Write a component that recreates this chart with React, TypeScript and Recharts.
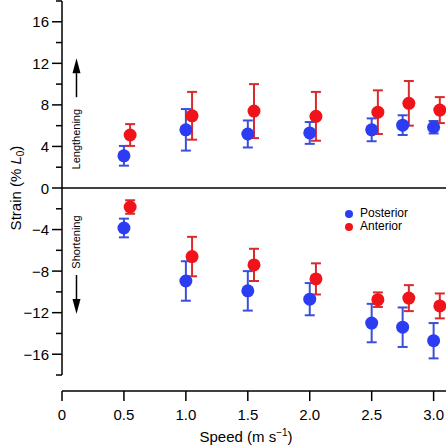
import React from 'react';
import {
  ScatterChart,
  Scatter,
  XAxis,
  YAxis,
  ErrorBar,
  ReferenceLine,
  ReferenceDot,
  Legend,
  Label,
} from 'recharts';

// ---- data ----
const speedsPosterior = [0.5, 1.0, 1.5, 2.0, 2.5, 2.75, 3.0];
const speedsAnterior = [0.55, 1.05, 1.55, 2.05, 2.55, 2.8, 3.05];

const posteriorLengthening = [3.1, 5.6, 5.2, 5.3, 5.6, 6.05, 5.85];
const posteriorLengtheningErr = [0.95, 2.0, 1.3, 1.05, 1.1, 0.95, 0.6];
const anteriorLengthening = [5.1, 6.95, 7.4, 6.9, 7.3, 8.15, 7.5];
const anteriorLengtheningErr = [1.05, 2.3, 2.6, 2.35, 2.1, 2.15, 1.25];

const posteriorShortening = [-3.85, -8.95, -9.9, -10.7, -13.0, -13.4, -14.7];
const posteriorShorteningErr = [0.9, 1.9, 1.9, 1.55, 1.85, 1.9, 1.7];
const anteriorShortening = [-1.83, -6.6, -7.4, -8.75, -10.75, -10.6, -11.35];
const anteriorShorteningErr = [0.65, 1.9, 1.55, 1.5, 0.7, 1.25, 1.2];

const xTicks = [0, 0.5, 1.0, 1.5, 2.0, 2.5, 3.0];
const yTicks = [-18, -16, -14, -12, -10, -8, -6, -4, -2, 0, 2, 4, 6, 8, 10, 12, 14, 16, 18];
const yLabelTicks = [-16, -12, -8, -4, 0, 4, 8, 12, 16];
const seriesNames = ['Posterior', 'Anterior'];

const BLUE = '#2b3cf2';
const BLUE_BAR = '#3a4fdc';
const RED = '#f0141a';
const RED_BAR = '#d92a2e';
const FONT = '"Liberation Sans", Arial, Helvetica, sans-serif';

const build = (speeds: number[], vals: number[], errs: number[]) =>
  speeds.map((s, i) => ({ x: s, y: vals[i], err: errs[i] }));

const posteriorData = [
  ...build(speedsPosterior, posteriorLengthening, posteriorLengtheningErr),
  ...build(speedsPosterior, posteriorShortening, posteriorShorteningErr),
];
const anteriorData = [
  ...build(speedsAnterior, anteriorLengthening, anteriorLengtheningErr),
  ...build(speedsAnterior, anteriorShortening, anteriorShorteningErr),
];

const fmt = (v: number) => (v < 0 ? '\u2212' + Math.abs(v) : String(v));

const YTick = (props: any) => {
  const { x, y, payload } = props;
  const v = payload.value;
  const major = yLabelTicks.includes(v);
  return (
    <g>
      <line x1={x - (major ? 10 : 6)} x2={x} y1={y} y2={y} stroke="#000" strokeWidth={1.5} />
      {major && (
        <text x={x - 13} y={y} textAnchor="end" dominantBaseline="central" fontSize={15} fill="#000" fontFamily={FONT}>
          {fmt(v)}
        </text>
      )}
    </g>
  );
};

const dotShape = (color: string) => (props: any) => (
  <circle cx={props.cx} cy={props.cy} r={6.5} fill={color} />
);

const YTitle = (props: any) => {
  const vb = props.viewBox || { x: 0, y: 1, width: 62, height: 390 };
  const cx = 21;
  const cy = vb.y + (vb.height - 16) / 2;
  return (
    <text
      x={cx}
      y={cy}
      transform={`rotate(-90 ${cx} ${cy})`}
      textAnchor="middle"
      fontSize={15}
      fill="#000"
      fontFamily={FONT}
    >
      Strain (%{' '}
      <tspan fontStyle="italic">L</tspan>
      <tspan fontSize={10} dy={3}>0</tspan>
      <tspan dy={-3}>)</tspan>
    </text>
  );
};

const XTitle = (props: any) => {
  const vb = props.viewBox || { x: 62, y: 391, width: 384, height: 55 };
  const cx = vb.x + vb.width / 2 - 8;
  return (
    <text x={cx} y={442} textAnchor="middle" fontSize={15} fill="#000" fontFamily={FONT}>
      Speed (m s
      <tspan fontSize={10} dy={-6}>{'\u22121'}</tspan>
      <tspan dy={6}>)</tspan>
    </text>
  );
};

const LengtheningNote = (props: any) => {
  const { cx, cy } = props;
  return (
    <g>
      <text
        x={cx}
        y={cy}
        transform={`rotate(-90 ${cx} ${cy})`}
        textAnchor="middle"
        dominantBaseline="central"
        fontSize={11}
        fill="#000"
        fontFamily={FONT}
      >
        Lengthening
      </text>
      <line x1={cx} x2={cx} y1={cy - 42} y2={cy - 66} stroke="#000" strokeWidth={1.5} />
      <polygon points={`${cx - 4},${cy - 66} ${cx + 4},${cy - 66} ${cx},${cy - 81}`} fill="#000" />
    </g>
  );
};

const ShorteningNote = (props: any) => {
  const { cx, cy } = props;
  return (
    <g>
      <text
        x={cx}
        y={cy}
        transform={`rotate(-90 ${cx} ${cy})`}
        textAnchor="middle"
        dominantBaseline="central"
        fontSize={11}
        fill="#000"
        fontFamily={FONT}
      >
        Shortening
      </text>
      <line x1={cx} x2={cx} y1={cy + 33} y2={cy + 57} stroke="#000" strokeWidth={1.5} />
      <polygon points={`${cx - 4},${cy + 57} ${cx + 4},${cy + 57} ${cx},${cy + 72}`} fill="#000" />
    </g>
  );
};

const LegendContent = (props: any) => {
  const payload = props.payload || [];
  const items = seriesNames.map((n) => {
    const p = payload.find((q: any) => q.value === n);
    return { name: n, color: p ? p.color : n === 'Posterior' ? BLUE : RED };
  });
  return (
    <div style={{ fontFamily: FONT, fontSize: 12, lineHeight: '13px', color: '#000' }}>
      {items.map((it) => (
        <div key={it.name} style={{ display: 'flex', alignItems: 'center', height: 13, whiteSpace: 'nowrap' }}>
          <span
            style={{
              display: 'inline-block',
              width: 8,
              height: 8,
              borderRadius: 4,
              background: it.color,
              marginRight: 7,
            }}
          />
          {it.name}
        </div>
      ))}
    </div>
  );
};

export default function App() {
  return (
    <div style={{ position: 'absolute', left: 0, top: 0, width: 446, height: 446, background: '#fff', fontFamily: FONT }}>
      <ScatterChart width={446} height={446} margin={{ top: 1, right: 0, bottom: 0, left: 0 }}>
        <XAxis
          type="number"
          dataKey="x"
          domain={[0, 3.1]}
          ticks={xTicks}
          allowDataOverflow
          tickFormatter={(v: number) => (v === 0 ? '0' : v.toFixed(1))}
          tickSize={10}
          tickMargin={8}
          height={55}
          axisLine={{ stroke: '#000', strokeWidth: 1.5 }}
          tickLine={{ stroke: '#000', strokeWidth: 1.5 }}
          tick={{ fill: '#000', fontSize: 15, fontFamily: FONT }}
        >
          <Label content={<XTitle />} />
        </XAxis>
        <YAxis
          type="number"
          dataKey="y"
          domain={[-18, 18]}
          ticks={yTicks}
          allowDataOverflow
          width={62}
          padding={{ top: 0, bottom: 16 }}
          axisLine={false}
          tickLine={false}
          tickSize={0}
          tickMargin={0}
          tick={<YTick />}
          interval={0}
        >
          <Label content={<YTitle />} />
        </YAxis>
        <ReferenceLine
          segment={[
            { x: 0, y: -18 },
            { x: 0, y: 18 },
          ]}
          stroke="#000"
          strokeWidth={1.5}
          ifOverflow="visible"
        />
        <ReferenceLine y={0} stroke="#000" strokeWidth={1.5} />
        <ReferenceDot x={0.117} y={4.7} r={0} shape={<LengtheningNote />} ifOverflow="visible" />
        <ReferenceDot x={0.117} y={-5.2} r={0} shape={<ShorteningNote />} ifOverflow="visible" />
        <Legend
          layout="vertical"
          align="center"
          verticalAlign="middle"
          wrapperStyle={{ left: 345, top: 207, width: 'auto' }}
          content={<LegendContent />}
        />
        <Scatter name="Posterior" data={posteriorData} fill={BLUE} shape={dotShape(BLUE)} isAnimationActive={false}>
          <ErrorBar dataKey="err" direction="y" width={5} stroke={BLUE_BAR} strokeWidth={2} />
        </Scatter>
        <Scatter name="Anterior" data={anteriorData} fill={RED} shape={dotShape(RED)} isAnimationActive={false}>
          <ErrorBar dataKey="err" direction="y" width={5} stroke={RED_BAR} strokeWidth={2} />
        </Scatter>
      </ScatterChart>
    </div>
  );
}
